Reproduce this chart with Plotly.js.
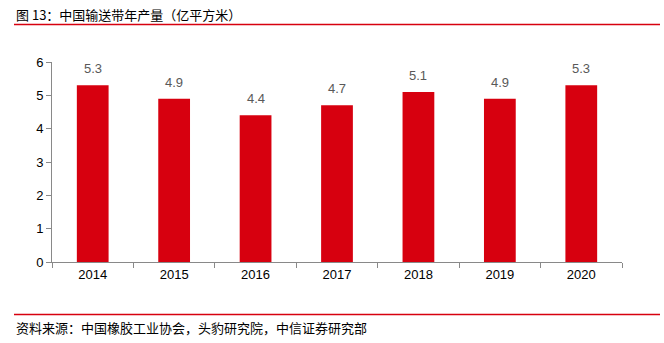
<!DOCTYPE html>
<html>
<head>
<meta charset="utf-8">
<script src="https://cdn.plot.ly/plotly-3.0.1.min.js"></script>
<style>
html,body{margin:0;padding:0;background:#fff;}
#chart{width:664px;height:343px;}
</style>
</head>
<body>
<div id="chart"></div>
<script>
const years = ["2014","2015","2016","2017","2018","2019","2020"];
const output = [5.3, 4.9, 4.4, 4.7, 5.1, 4.9, 5.3];
const yTicks = [0,1,2,3,4,5,6];
const titleText = "图 13：中国输送带年产量（亿平方米）";
const sourceText = "资料来源：中国橡胶工业协会，头豹研究院，中信证券研究部";

const W = 664, H = 343;
const ml = 52, mr = 42, mt = 62, mb = 81;
const pw = W - ml - mr, ph = H - mt - mb;
function px(x){ return (x - ml) / pw; }
function py(y){ return (H - mb - y) / ph; }

const cjk = '"Noto Sans CJK SC", "Noto Sans", sans-serif';
const latin = 'Arial, "Liberation Sans", sans-serif';

const trace = {
  type: 'bar',
  x: years,
  y: output,
  marker: {color: '#D7000F'},
  hoverinfo: 'none'
};

const valueLabels = years.map((yr, i) => ({
  text: output[i].toFixed(1), x: i, y: output[i], xref: 'x', yref: 'y',
  xanchor: 'center', yanchor: 'bottom', yshift: 7, showarrow: false,
  font: {family: latin, size: 13, color: '#595959'}
}));

const layout = {
  width: W, height: H,
  margin: {l: ml, r: mr, t: mt, b: mb, pad: 0},
  paper_bgcolor: '#fff',
  plot_bgcolor: '#fff',
  showlegend: false,
  bargap: 0.61,
  xaxis: {
    type: 'category',
    range: [-0.5, 6.5],
    showline: true, linecolor: '#898989', linewidth: 1,
    ticks: 'outside', tickson: 'boundaries', ticklen: 5, tickcolor: '#898989',
    tickfont: {family: latin, size: 13, color: '#000'},
    showgrid: false, zeroline: false, fixedrange: true
  },
  yaxis: {
    range: [0, 6],
    tickvals: yTicks,
    showline: true, linecolor: '#898989', linewidth: 1,
    ticks: 'outside', ticklen: 5, tickcolor: '#898989',
    tickfont: {family: latin, size: 13, color: '#000'},
    showgrid: false, zeroline: false, fixedrange: true
  },
  shapes: [
    {type: 'line', xref: 'paper', yref: 'paper', x0: px(14), x1: px(660), y0: py(24.5), y1: py(24.5), line: {color: '#D7000F', width: 1.5}},
    {type: 'line', xref: 'paper', yref: 'paper', x0: px(14), x1: px(660), y0: py(314.5), y1: py(314.5), line: {color: '#D7000F', width: 1.5}}
  ],
  annotations: valueLabels.concat([
    {text: titleText, xref: 'paper', yref: 'paper', x: px(14), y: py(14), xanchor: 'left', yanchor: 'middle', showarrow: false, font: {family: cjk, size: 13, color: '#000'}},
    {text: sourceText, xref: 'paper', yref: 'paper', x: px(14), y: py(327), xanchor: 'left', yanchor: 'middle', showarrow: false, font: {family: cjk, size: 13, color: '#000'}}
  ])
};

Plotly.newPlot('chart', [trace], layout, {staticPlot: true, displayModeBar: false});
</script>
</body>
</html>
